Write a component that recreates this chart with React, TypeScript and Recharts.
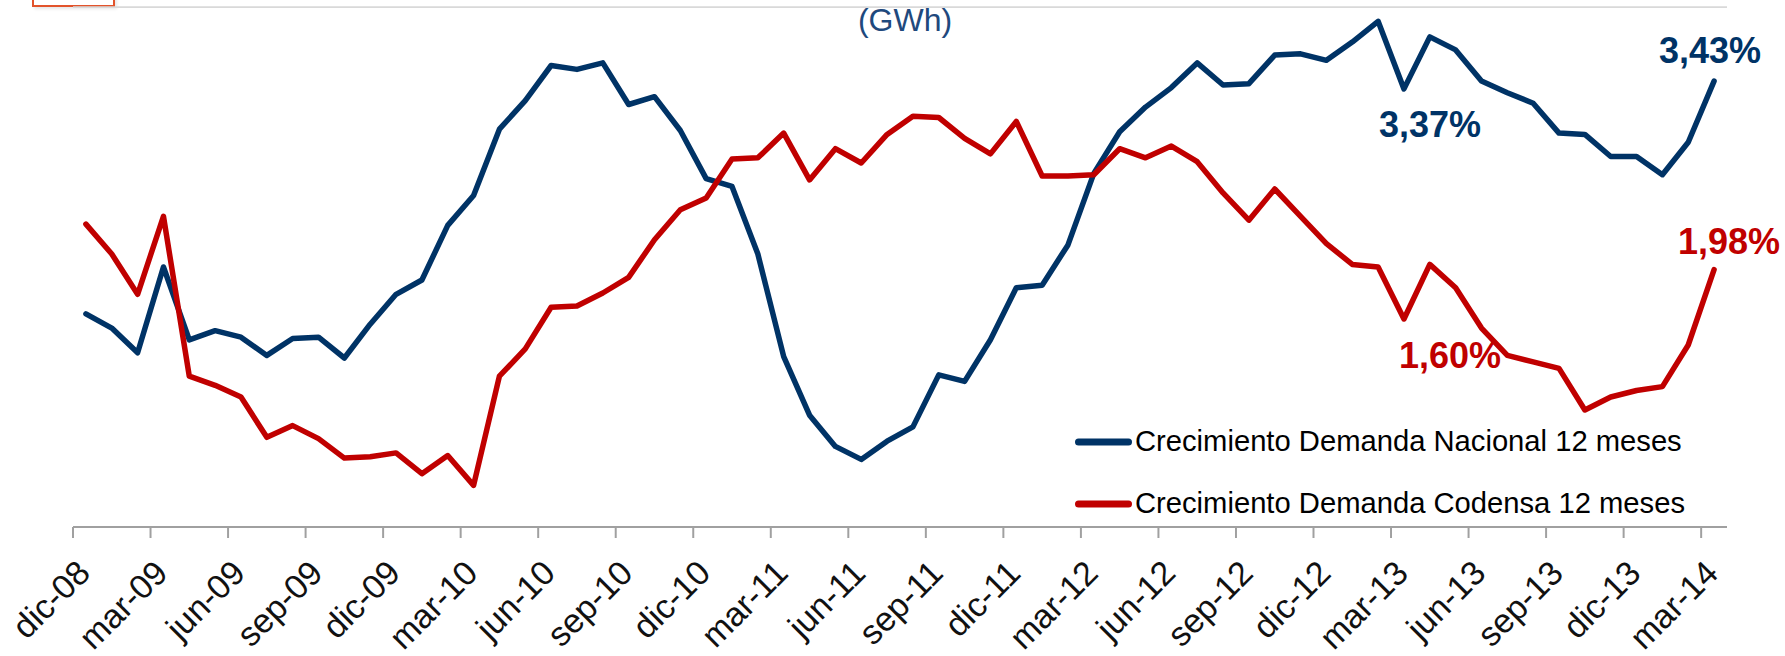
import React from 'react';
import { LineChart, Line, XAxis, YAxis, CartesianGrid } from 'recharts';

const FONT = '"Liberation Sans", Arial, sans-serif';
const BLUE = '#003366';
const RED = '#C00000';

// month labels dic-08 ... mar-14 (64 months)
const MESES = ['ene', 'feb', 'mar', 'abr', 'may', 'jun', 'jul', 'ago', 'sep', 'oct', 'nov', 'dic'];
const categories: string[] = ['dic-08'];
for (let y = 9; y <= 14; y++) {
  const last = y === 14 ? 3 : 12;
  for (let m = 0; m < last; m++) categories.push(`${MESES[m]}-${String(y).padStart(2, '0')}`);
}

// Crecimiento Demanda Nacional 12 meses (%)
const nacional = [
  1.64, 1.53, 1.34, 2.0, 1.44, 1.51, 1.46, 1.32, 1.45, 1.46, 1.3, 1.56,
  1.79, 1.9, 2.32, 2.55, 3.06, 3.28, 3.55, 3.52, 3.57, 3.25, 3.31, 3.05,
  2.68, 2.62, 2.1, 1.31, 0.86, 0.62, 0.52, 0.66, 0.77, 1.17, 1.12, 1.44,
  1.84, 1.86, 2.17, 2.72, 3.04, 3.23, 3.38, 3.57, 3.4, 3.41, 3.63, 3.64,
  3.59, 3.73, 3.89, 3.37, 3.77, 3.67, 3.43, 3.34, 3.26, 3.03, 3.02, 2.85,
  2.85, 2.71, 2.96, 3.43,
];

// Crecimiento Demanda Codensa 12 meses (%)
const codensa = [
  2.33, 2.1, 1.79, 2.39, 1.16, 1.09, 1.0, 0.69, 0.78, 0.68, 0.53, 0.54,
  0.57, 0.41, 0.55, 0.32, 1.16, 1.37, 1.69, 1.7, 1.8, 1.92, 2.21, 2.44,
  2.53, 2.83, 2.84, 3.03, 2.67, 2.91, 2.8, 3.02, 3.16, 3.15, 2.99, 2.87,
  3.12, 2.7, 2.7, 2.71, 2.91, 2.84, 2.93, 2.81, 2.57, 2.36, 2.6, 2.39,
  2.18, 2.02, 2.0, 1.6, 2.02, 1.84, 1.53, 1.32, 1.27, 1.22, 0.9, 1.0,
  1.05, 1.08, 1.4, 1.98,
];

const yTicks = [0, 0.5, 1, 1.5, 2, 2.5, 3, 3.5, 4];
// ticks sit on the left edge of every third month
const xTicks = categories.map((_, i) => i).filter(i => i % 3 === 0).map(i => i - 0.5);

// highlighted values: series, month index, label offset from the point
const notes = [
  { key: 'nacional', index: 63, dx: -4, dy: -18 },
  { key: 'nacional', index: 51, dx: 26, dy: 48 },
  { key: 'codensa', index: 63, dx: 15, dy: -16 },
  { key: 'codensa', index: 51, dx: 46, dy: 49 },
];

const data = categories.map((mes, i) => ({ idx: i, mes, nacional: nacional[i], codensa: codensa[i] }));

const fmt = (v: number) => v.toFixed(2).replace('.', ',') + '%';

const MonthTick = (props: any) => {
  const { x, y, payload } = props;
  const label = categories[Math.round(payload.value + 0.5)] ?? '';
  const ax = x + 19;
  const ay = y + 37;
  return (
    <text x={ax} y={ay} transform={`rotate(-45, ${ax}, ${ay})`} textAnchor="end" fontSize={34} fill="#111" fontFamily={FONT}>
      {label}
    </text>
  );
};

const makeLabel = (key: string, color: string) => (props: any) => {
  const n = notes.find(a => a.key === key && a.index === props.index);
  if (!n) return null;
  const px = props.x ?? props.viewBox?.x;
  const py = props.y ?? props.viewBox?.y;
  return (
    <text key={`${key}-${n.index}`} x={px + n.dx} y={py + n.dy} textAnchor="middle" fill={color} fontSize={36} fontWeight="bold" fontFamily={FONT}>
      {fmt(props.value)}
    </text>
  );
};

const legendItems = [
  { name: 'Crecimiento Demanda Nacional 12 meses', color: BLUE },
  { name: 'Crecimiento Demanda Codensa 12 meses', color: RED },
];

const ChartLegend = () => (
  <div style={{ position: 'absolute', left: 1075, top: 410.7 }}>
    {legendItems.map(item => (
      <div key={item.name} style={{ display: 'flex', alignItems: 'center', height: 62 }}>
        <svg width={57} height={12} style={{ marginRight: 3 }}>
          <line x1={3.5} y1={6} x2={53.5} y2={6} stroke={item.color} strokeWidth={7} strokeLinecap="round" />
        </svg>
        <span style={{ fontSize: 29.2, color: '#000', fontFamily: FONT, whiteSpace: 'nowrap' }}>{item.name}</span>
      </div>
    ))}
  </div>
);

export default function App() {
  return (
    <div style={{ position: 'absolute', left: 0, top: 0, width: 1785, height: 656, background: '#fff', overflow: 'hidden', fontFamily: FONT }}>
      <div style={{ position: 'absolute', left: 32, top: -20, width: 83, height: 26.5, boxSizing: 'border-box', border: '2.7px solid #E2532B', boxShadow: '2px 2px 3px rgba(0,0,0,0.1)' }} />
      <LineChart width={1785} height={656} data={data} margin={{ top: 7, right: 58, bottom: 0, left: 73 }}>
        <CartesianGrid vertical={false} stroke="#D9D9D9" strokeWidth={1.75} />
        <XAxis
          type="number"
          dataKey="idx"
          domain={[-0.5, 63.5]}
          ticks={xTicks}
          interval={0}
          allowDecimals
          height={129}
          tickSize={11}
          tickMargin={0}
          tick={<MonthTick />}
          axisLine={{ stroke: '#A0A0A0', strokeWidth: 2 }}
          tickLine={{ stroke: '#A0A0A0', strokeWidth: 2 }}
        />
        <YAxis domain={[0, 4]} ticks={yTicks} width={0} tick={false} axisLine={false} tickLine={false} />
        <Line
          type="linear"
          dataKey="nacional"
          stroke={BLUE}
          strokeWidth={5.5}
          strokeLinejoin="round"
          strokeLinecap="round"
          dot={false}
          activeDot={false}
          isAnimationActive={false}
          label={makeLabel('nacional', BLUE)}
        />
        <Line
          type="linear"
          dataKey="codensa"
          stroke={RED}
          strokeWidth={5.5}
          strokeLinejoin="round"
          strokeLinecap="round"
          dot={false}
          activeDot={false}
          isAnimationActive={false}
          label={makeLabel('codensa', RED)}
        />
      </LineChart>
      <div style={{ position: 'absolute', left: 805, top: 2, width: 200, textAlign: 'center', fontSize: 32, lineHeight: '36px', color: '#1F497D' }}>
        (GWh)
      </div>
      <ChartLegend />
    </div>
  );
}
